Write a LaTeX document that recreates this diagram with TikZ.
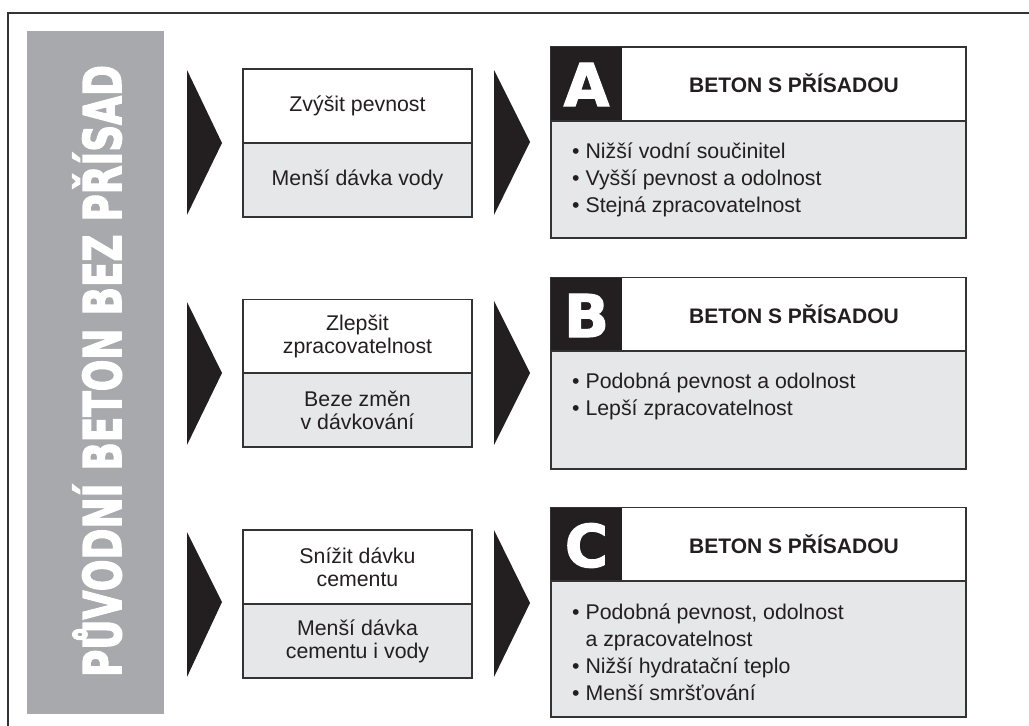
\documentclass[tikz,border=0pt]{standalone}
\usepackage{fontspec}
\setmainfont{Liberation Sans}
\newfontfamily\heavyfont[FakeBold=3]{DejaVu Sans Bold}
\newfontfamily\letterfont[FakeBold=2]{DejaVu Sans Bold}
\definecolor{bannergray}{HTML}{A7A9AC}
\definecolor{paleg}{HTML}{E6E7E8}
\definecolor{ink}{HTML}{231F20}
\definecolor{edge}{HTML}{333333}
\newlength\bannerlen
\begin{document}
\settowidth\bannerlen{\heavyfont\fontsize{52}{52}\selectfont PŮVODNÍ BETON BEZ PŘÍSAD}%
\pgfmathsetmacro\bscale{612/\bannerlen}%
\begin{tikzpicture}[x=1pt,y=-1pt,
  boxline/.style={draw=edge,line width=1.3pt},
  midtop/.style={boxline,fill=white,minimum width=229pt,minimum height=74pt,inner sep=0pt,align=center,font=\fontsize{21.3}{23}\selectfont,text=ink},
  midbot/.style={midtop,fill=paleg},
  headbox/.style={boxline,fill=white,minimum width=415pt,minimum height=74pt,inner sep=0pt},
  bodybox/.style={boxline,fill=paleg,minimum width=415pt,inner sep=0pt},
  blacksq/.style={fill=ink,minimum width=71pt,minimum height=74pt,inner sep=0pt},
  letter/.style={text=white,font=\letterfont\fontsize{59}{59}\selectfont,inner sep=0pt,anchor=base},
  title/.style={text=ink,font=\bfseries\fontsize{21}{23}\selectfont,inner sep=0pt,anchor=base},
  bullet/.style={text=ink,font=\fontsize{21.3}{27}\selectfont,inner sep=0pt,anchor=base west},
  tri/.style={fill=ink}
]
\useasboundingbox (0,0) rectangle (1029,726);
% outer frame (open to right and bottom)
\draw[edge,line width=1.4pt] (1029,13) -- (8,13) -- (8,726);
% banner
\fill[bannergray] (27,31) rectangle (164,714);
\node[rotate=90,anchor=base,inner sep=0pt,text=white] (banner) at (121,371)
  {\scalebox{\bscale}[1]{\heavyfont\fontsize{52}{52}\selectfont PŮVODNÍ BETON BEZ PŘÍSAD}};

% ---------- row A ----------
\fill[tri] (187,70) -- (222,143) -- (187,215) -- cycle;
\node[midtop] (a1) at (357.5,106) {Zvýšit pevnost};
\node[midbot] (a2) at (357.5,180) {Menší dávka vody};
\fill[tri] (494,70) -- (530,142) -- (494,215) -- cycle;
\node[headbox] (ah) at (758.5,84) {};
\node[blacksq] (asq) at (586.5,84) {};
\node[letter] (al) at (586.5,106) {A};
\node[title] (at) at (794,92) {BETON S PŘÍSADOU};
\node[bodybox,minimum height=117pt] (ab) at (758.5,179.5) {};
\node[bullet] (ab1) at (572,158) {• Nižší vodní součinitel};
\node[bullet] (ab2) at (572,185) {• Vyšší pevnost a odolnost};
\node[bullet] (ab3) at (572,212) {• Stejná zpracovatelnost};

% ---------- row B ----------
\fill[tri] (187,302) -- (222,373) -- (187,445) -- cycle;
\node[midtop] (b1) at (357.5,336.5) {Zlepšit\\zpracovatelnost};
\node[midbot] (b2) at (357.5,410) {Beze změn\\v dávkování};
\fill[tri] (494,301) -- (530,373) -- (494,445) -- cycle;
\node[headbox] (bh) at (758.5,314.5) {};
\node[blacksq] (bsq) at (586.5,314.5) {};
\node[letter] (bl) at (586.5,337) {B};
\node[title] (bt) at (794,323) {BETON S PŘÍSADOU};
\node[bodybox,minimum height=118pt] (bb) at (758.5,410) {};
\node[bullet] (bb1) at (572,388) {• Podobná pevnost a odolnost};
\node[bullet] (bb2) at (572,415) {• Lepší zpracovatelnost};

% ---------- row C ----------
\fill[tri] (187,532) -- (222,602) -- (187,677) -- cycle;
\node[midtop] (c1) at (357.5,567) {Snížit dávku\\cementu};
\node[midbot] (c2) at (357.5,641) {Menší dávka\\cementu i vody};
\fill[tri] (494,530) -- (530,603) -- (494,677) -- cycle;
\node[headbox] (ch) at (758.5,544.5) {};
\node[blacksq] (csq) at (586.5,544.5) {};
\node[letter] (cl) at (586.5,567) {C};
\node[title] (ct) at (794,553) {BETON S PŘÍSADOU};
\node[bodybox,minimum height=136pt] (cb) at (758.5,649) {};
\node[bullet] (cb1) at (572,619) {• Podobná pevnost, odolnost};
\node[bullet] (cb2) at (572,646) {\phantom{• }a zpracovatelnost};
\node[bullet] (cb3) at (572,673) {• Nižší hydratační teplo};
\node[bullet] (cb4) at (572,700) {• Menší smršťování};
\end{tikzpicture}
\end{document}
